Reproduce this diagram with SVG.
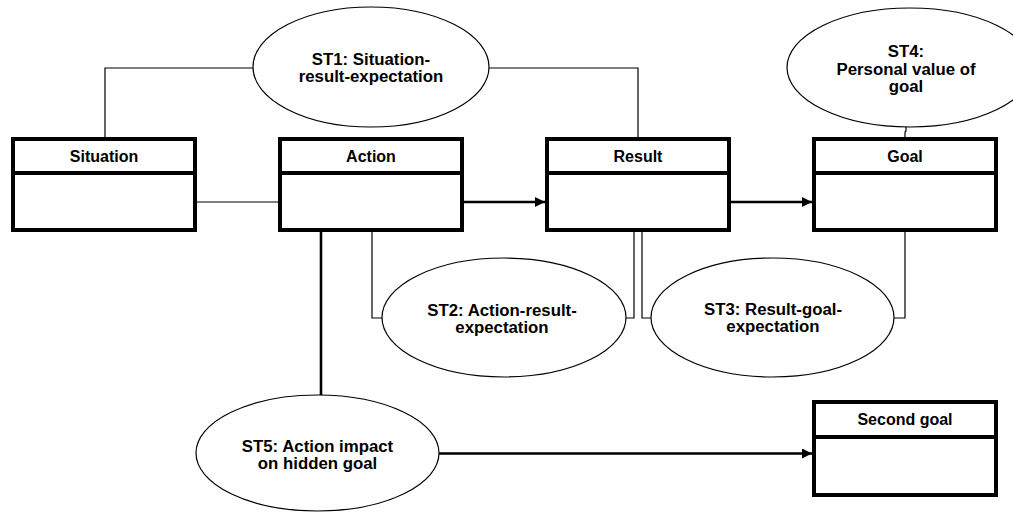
<svg xmlns="http://www.w3.org/2000/svg" width="1013" height="512" viewBox="0 0 1013 512">
  <defs>
    <style>
      .box { fill: #fff; stroke: #000; stroke-width: 4; }
      .div { stroke: #000; stroke-width: 4; }
      .oval { fill: #fff; stroke: #000; stroke-width: 1.2; }
      .thin { fill: none; stroke: #000; stroke-width: 1.2; }
      .thick { fill: none; stroke: #000; stroke-width: 2.6; }
      .hdr { font-family: "Liberation Sans", Arial, sans-serif; font-weight: bold; font-size: 16px; text-anchor: middle; fill: #000; }
      .lbl { font-family: "Liberation Sans", Arial, sans-serif; font-weight: bold; font-size: 16.8px; text-anchor: middle; fill: #000; }
    </style>
    <marker id="arrow" markerUnits="userSpaceOnUse" markerWidth="10" markerHeight="10" refX="10" refY="5" orient="auto">
      <path d="M0,0 L10,5 L0,10 Z" fill="#000"/>
    </marker>
  </defs>

  <rect width="1013" height="512" fill="#fff"/>

  <!-- connectors -->
  <g id="connectors">
    <!-- Situation / Result to ST1 -->
    <polyline class="thin" points="105,137 105,68 253,68"/>
    <polyline class="thin" points="489,68 638,68 638,137"/>
    <!-- ST4 to Goal -->
    <polyline class="thin" points="906,127 906,131 905,132 905,137"/>
    <!-- Situation to Action -->
    <line class="thin" x1="197" y1="202" x2="278" y2="202"/>
    <!-- Action to Result, Result to Goal -->
    <line class="thick" x1="464" y1="202" x2="545" y2="202" marker-end="url(#arrow)"/>
    <line class="thick" x1="731" y1="202" x2="812" y2="202" marker-end="url(#arrow)"/>
    <!-- ST2 links -->
    <polyline class="thin" points="372,232 372,318 382,318"/>
    <polyline class="thin" points="626,318 634,318 634,232"/>
    <!-- ST3 links -->
    <polyline class="thin" points="642,232 642,318 651,318"/>
    <polyline class="thin" points="894,318 905,318 905,232"/>
    <!-- Action to ST5 -->
    <rect x="318.5" y="228" width="5" height="4" fill="#000"/>
    <line class="thick" x1="321" y1="228" x2="321" y2="395"/>
    <!-- ST5 to Second goal -->
    <line class="thick" x1="439" y1="453.5" x2="812" y2="453.5" marker-end="url(#arrow)"/>
  </g>

  <!-- class-style boxes -->
  <g id="situation">
    <rect class="box" x="13" y="139" width="182" height="91"/>
    <line class="div" x1="13" y1="173" x2="195" y2="173"/>
    <text class="hdr" x="104" y="162">Situation</text>
  </g>
  <g id="action">
    <rect class="box" x="280" y="139" width="182" height="91"/>
    <line class="div" x1="280" y1="173" x2="462" y2="173"/>
    <text class="hdr" x="371" y="162">Action</text>
  </g>
  <g id="result">
    <rect class="box" x="547" y="139" width="182" height="91"/>
    <line class="div" x1="547" y1="173" x2="729" y2="173"/>
    <text class="hdr" x="638" y="162">Result</text>
  </g>
  <g id="goal">
    <rect class="box" x="814" y="139" width="182" height="91"/>
    <line class="div" x1="814" y1="173" x2="996" y2="173"/>
    <text class="hdr" x="905" y="162">Goal</text>
  </g>
  <g id="second-goal">
    <rect class="box" x="814" y="402" width="182" height="93"/>
    <line class="div" x1="814" y1="437" x2="996" y2="437"/>
    <text class="hdr" x="905" y="425">Second goal</text>
  </g>

  <!-- expectation ovals -->
  <g id="st1">
    <ellipse class="oval" cx="371" cy="67" rx="118" ry="60"/>
    <text class="lbl" x="371" y="65">ST1: Situation-</text>
    <text class="lbl" x="371" y="82">result-expectation</text>
  </g>
  <g id="st4">
    <ellipse class="oval" cx="910" cy="67.5" rx="123" ry="59.5"/>
    <text class="lbl" x="906" y="57">ST4:</text>
    <text class="lbl" x="906" y="75">Personal value of</text>
    <text class="lbl" x="906" y="92">goal</text>
  </g>
  <g id="st2">
    <ellipse class="oval" cx="504" cy="317.5" rx="122" ry="59.5"/>
    <text class="lbl" x="502" y="316">ST2: Action-result-</text>
    <text class="lbl" x="502" y="333">expectation</text>
  </g>
  <g id="st3">
    <ellipse class="oval" cx="772.5" cy="317.5" rx="121.5" ry="59.5"/>
    <text class="lbl" x="773" y="315">ST3: Result-goal-</text>
    <text class="lbl" x="773" y="332">expectation</text>
  </g>
  <g id="st5">
    <ellipse class="oval" cx="317.5" cy="453" rx="121.5" ry="58"/>
    <text class="lbl" x="317.5" y="452">ST5: Action impact</text>
    <text class="lbl" x="317.5" y="469">on hidden goal</text>
  </g>
</svg>
